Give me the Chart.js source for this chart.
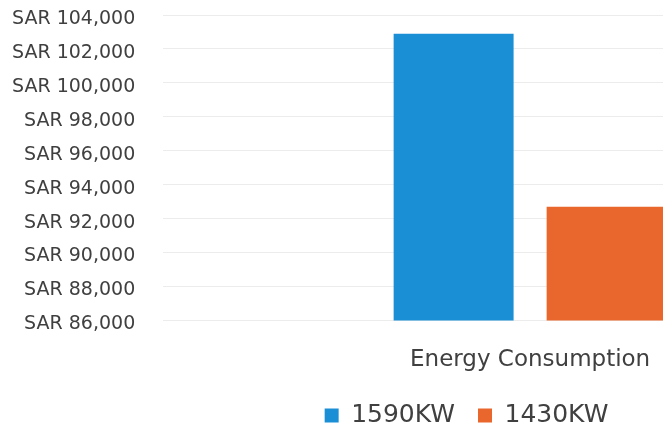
<!DOCTYPE html>
<html>
<head>
<meta charset="utf-8">
<script src="https://cdn.jsdelivr.net/npm/chart.js@4/dist/chart.umd.min.js"></script>
<style>
  html, body { margin: 0; padding: 0; background: #ffffff; overflow: hidden; }
  #wrap { position: relative; width: 932px; height: 430px; }
</style>
</head>
<body>
<div id="wrap"><canvas id="chart"></canvas></div>
<script>
// Annual energy cost (SAR) for two installed capacities
const categories = ["Energy Consumption"];
const seriesNames = ["1590KW", "1430KW"];
const cost1590 = [102900];
const cost1430 = [92700];
const yMin = 86000;
const yMax = 104000;
const yStep = 2000;

const textColor = "#404040";
const fontFamily = "'DejaVu Sans', sans-serif";

// Nudge the legend row to the right of the default centre line
const legendShift = {
  id: "legendShift",
  afterLayout(chart) {
    if (chart.legend) {
      chart.legend.left += 12;
      chart.legend.right += 12;
    }
  }
};

new Chart(document.getElementById("chart"), {
  type: "bar",
  data: {
    labels: categories,
    datasets: [
      { label: seriesNames[0], data: cost1590, backgroundColor: "#1b8fd6" },
      { label: seriesNames[1], data: cost1430, backgroundColor: "#e9672d" }
    ]
  },
  plugins: [legendShift],
  options: {
    responsive: true,
    maintainAspectRatio: false,
    animation: false,
    layout: { padding: { top: 15, right: 35, left: 12, bottom: -8 } },
    datasets: { bar: { categoryPercentage: 0.417, barPercentage: 0.784 } },
    plugins: {
      tooltip: { enabled: false },
      legend: {
        position: "bottom",
        labels: {
          color: textColor,
          font: { family: fontFamily, size: 25 },
          boxWidth: 14,
          boxHeight: 14,
          padding: 23
        }
      }
    },
    scales: {
      x: {
        grid: { display: false, drawTicks: true, tickLength: 20 },
        border: { display: false },
        ticks: { color: textColor, font: { family: fontFamily, size: 23 }, padding: 6 }
      },
      y: {
        min: yMin,
        max: yMax,
        grid: { color: "#ececec", drawTicks: true, tickLength: 28, tickColor: "rgba(0,0,0,0)" },
        border: { display: false },
        ticks: {
          stepSize: yStep,
          color: textColor,
          padding: 0,
          labelOffset: 4,
          font: { family: fontFamily, size: 19 },
          callback: (v) => "SAR " + v.toLocaleString("en-US")
        }
      }
    }
  }
});
</script>
</body>
</html>
